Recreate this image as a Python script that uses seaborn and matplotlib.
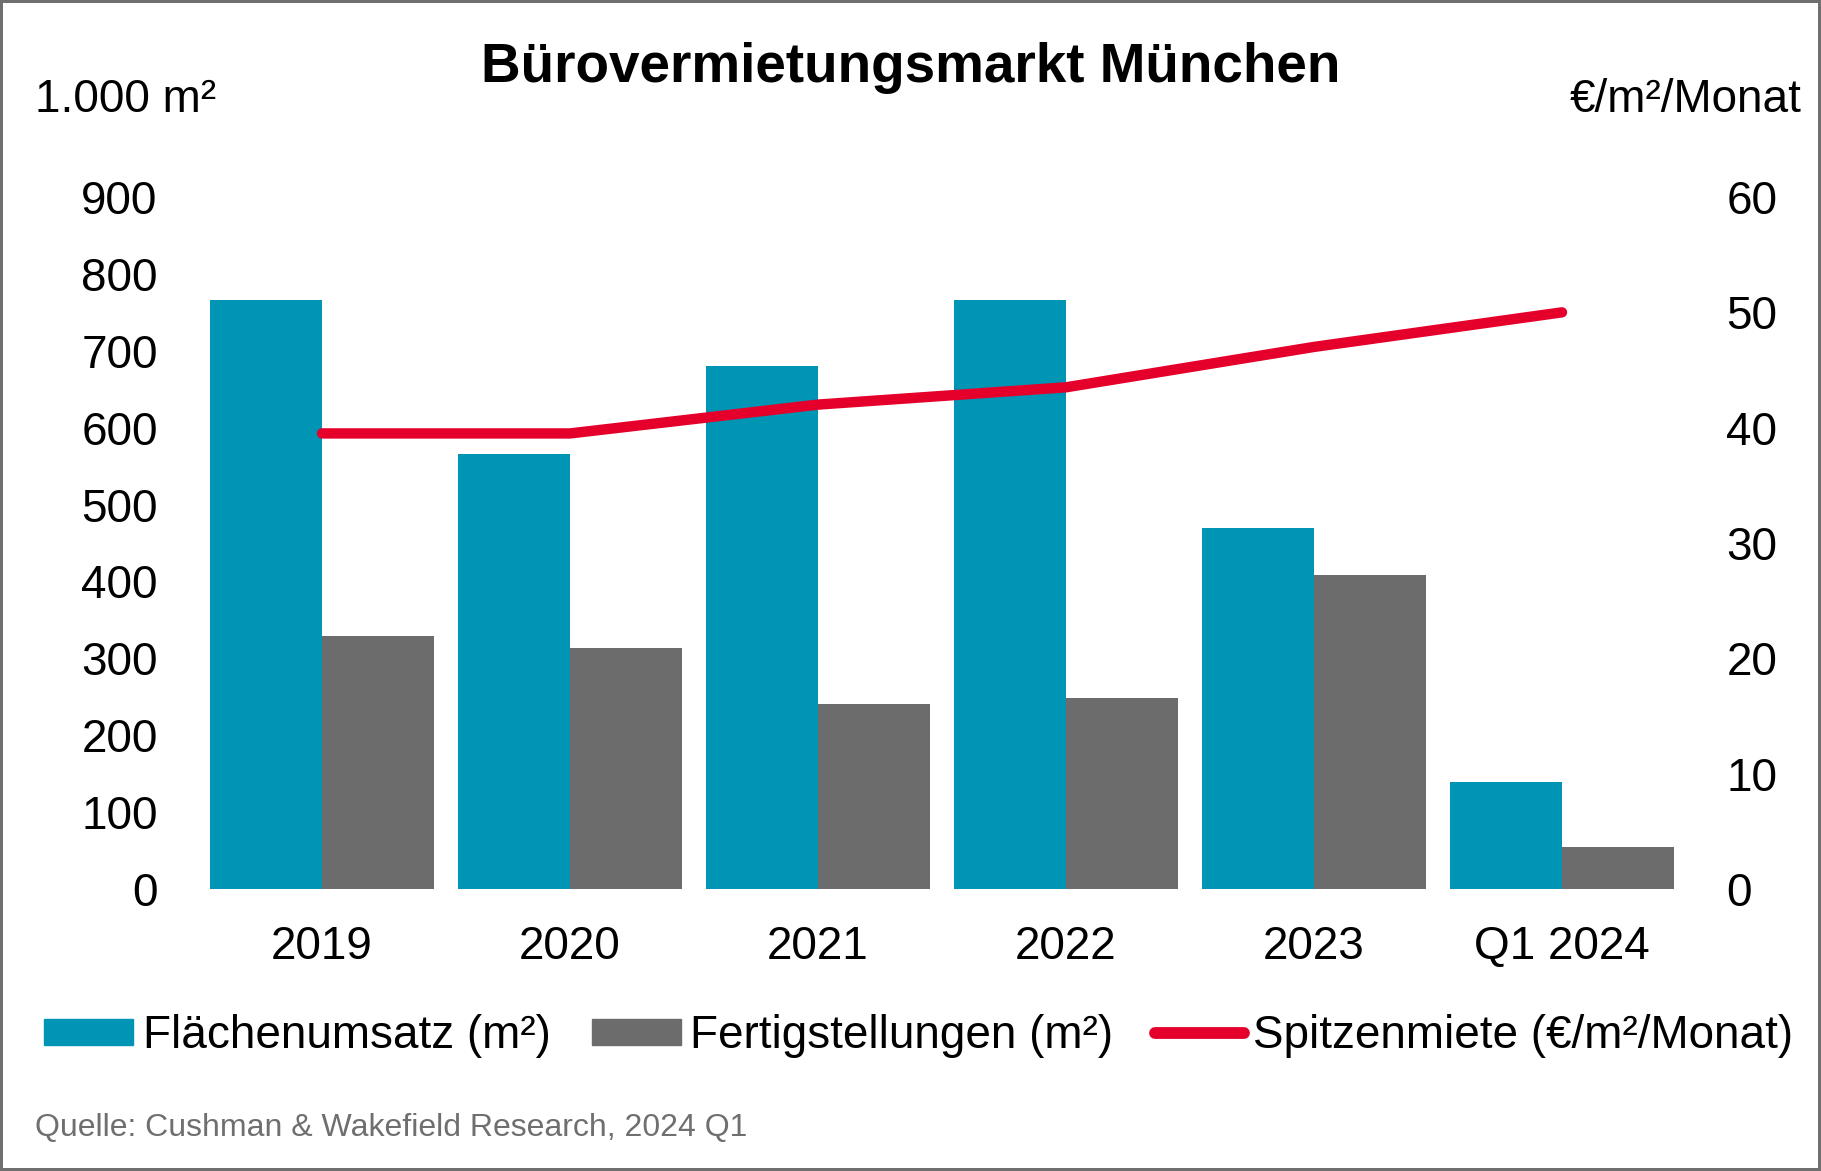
import pandas as pd
import seaborn as sns
import matplotlib.pyplot as plt
from matplotlib.patches import Patch
from matplotlib.lines import Line2D

# Werte (1.000 m² bzw. €/m²/Monat)
years = ["2019", "2020", "2021", "2022", "2023", "Q1 2024"]
flaechenumsatz = [766, 566, 680, 766, 470, 139]
fertigstellungen = [329, 314, 240, 249, 408, 54]
spitzenmiete = [39.5, 39.5, 42.0, 43.5, 47.0, 50.0]

series_names = ["Flächenumsatz (m²)", "Fertigstellungen (m²)", "Spitzenmiete (€/m²/Monat)"]
left_ticks = [0, 100, 200, 300, 400, 500, 600, 700, 800, 900]
right_ticks = [0, 10, 20, 30, 40, 50, 60]

TEAL = "#0095b5"
GREY = "#6b6c6b"
RED = "#e4002b"
FRAME = "#6f6f6f"

W, H = 1821, 1171


def main() -> None:
    sns.set_theme(style="white")
    plt.rcParams["font.family"] = ["Liberation Sans", "DejaVu Sans"]
    plt.rcParams["text.color"] = "black"
    plt.rcParams["xtick.color"] = "black"
    plt.rcParams["ytick.color"] = "black"

    df = pd.DataFrame({"Jahr": years,
                       series_names[0]: flaechenumsatz,
                       series_names[1]: fertigstellungen})
    long = df.melt(id_vars="Jahr", var_name="Serie", value_name="Wert")

    fig = plt.figure(figsize=(W / 100, H / 100), dpi=100)
    fig.patch.set_edgecolor(FRAME)
    fig.patch.set_linewidth(3)

    ax = fig.add_axes([198 / W, 1 - 889 / H, (1686 - 198) / W, (889 - 197) / H])
    sns.barplot(data=long, x="Jahr", y="Wert", hue="Serie",
                palette=[TEAL, GREY], width=0.907, saturation=1,
                errorbar=None, legend=False, linewidth=0, ax=ax)
    ax.set_xlim(-0.5, len(years) - 0.5)
    ax.set_ylim(0, 900)
    ax.set_yticks(left_ticks)
    ax.set_xlabel("")
    ax.set_ylabel("")
    ax.tick_params(axis="y", length=0, pad=29, labelsize=33)
    ax.tick_params(axis="x", length=0, pad=26, labelsize=33)

    ax2 = ax.twinx()
    sns.lineplot(x=list(range(len(years))), y=spitzenmiete, color=RED,
                 linewidth=7.5, solid_capstyle="round", ax=ax2)
    ax2.set_ylim(0, 60)
    ax2.set_yticks(right_ticks)
    ax2.tick_params(axis="y", length=0, pad=29, labelsize=33)

    for a in (ax, ax2):
        for s in a.spines.values():
            s.set_visible(False)

    fig.text(0.5, 1 - 68 / H, "Bürovermietungsmarkt München",
             ha="center", va="center", fontsize=39.5, fontweight="bold")
    fig.text(35 / W, 1 - 100 / H, "1.000 m²", ha="left", va="center", fontsize=33)
    fig.text(1802 / W, 1 - 100 / H, "€/m²/Monat", ha="right", va="center", fontsize=33)
    fig.text(35 / W, 1 - 1128 / H, "Quelle: Cushman & Wakefield Research, 2024 Q1",
             ha="left", va="center", fontsize=23, color=FRAME)

    handles = [Patch(color=TEAL), Patch(color=GREY),
               Line2D([], [], color=RED, linewidth=8.5, solid_capstyle="round")]
    fig.legend(handles, series_names, loc="center left",
               bbox_to_anchor=(44 / W, 1 - 1036 / H), ncol=3, frameon=False,
               fontsize=33, handlelength=1.95, handleheight=0.5,
               handletextpad=0.2, columnspacing=0.9, borderaxespad=0, borderpad=0)

    fig.savefig("out.png", dpi=100)
    plt.close(fig)


if __name__ == "__main__":
    main()
